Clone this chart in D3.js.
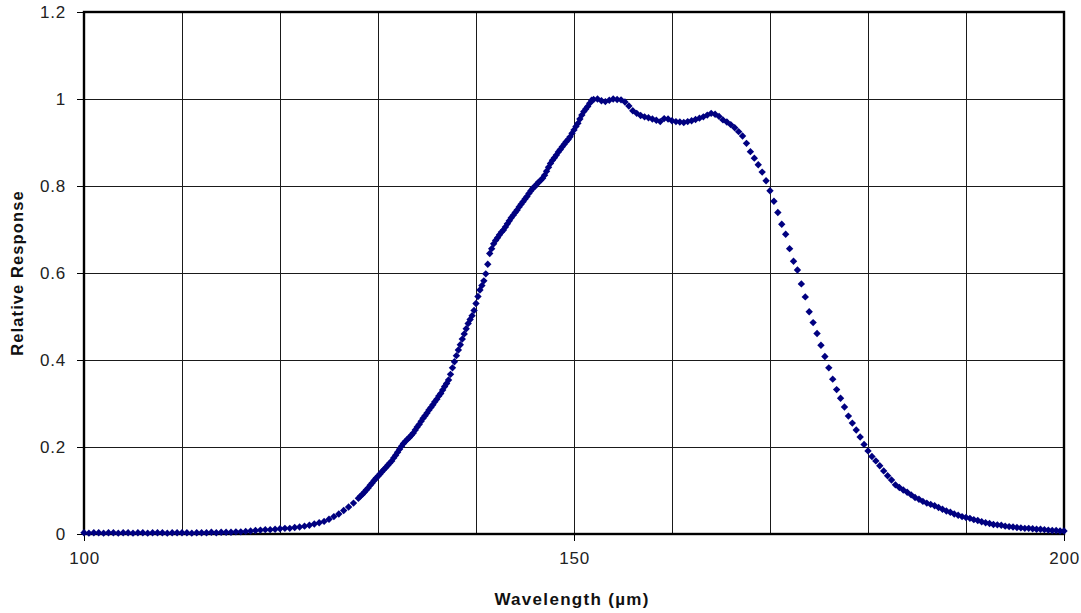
<!DOCTYPE html>
<html>
<head>
<meta charset="utf-8">
<script src="https://cdn.jsdelivr.net/npm/d3@7"></script>
<style>
  html, body { margin: 0; padding: 0; background: #fff; }
  svg { display: block; font-family: Arial, "Liberation Sans", sans-serif; }
</style>
</head>
<body>
<svg id="chart" width="1081" height="613"></svg>
<script>
// Measured spectral response
const wavelength = [
  100,100.5,101,101.5,102,102.5,103,103.5,104,104.5,105,105.5,106,106.5,107,107.5,108,108.5,109,109.5,
  110,110.5,111,111.5,112,112.5,113,113.5,114,114.5,115,115.5,116,116.5,117,117.5,118,118.5,119,119.5,
  120,120.5,121,121.5,122,122.5,123,123.5,124,124.5,125,125.5,126,126.5,127,127.5,128,
  128.2,128.4,128.6,128.8,129,129.2,129.4,129.6,129.8,130,130.2,130.4,130.6,130.8,131,131.2,131.4,131.6,131.8,
  132,132.2,132.4,132.6,132.8,133,133.2,133.4,133.6,133.8,134,134.2,134.4,134.6,134.8,135,135.2,135.4,135.6,135.8,
  136,136.2,136.4,136.6,136.8,137,137.2,137.4,137.6,137.8,138,138.2,138.4,138.6,138.8,139,139.2,139.4,139.6,139.8,
  140,140.2,140.4,140.6,140.8,141,141.2,141.4,141.6,141.8,142,142.2,142.4,142.6,142.8,143,143.2,143.4,143.6,143.8,
  144,144.2,144.4,144.6,144.8,145,145.2,145.4,145.6,145.8,146,146.2,146.4,146.6,146.8,147,147.2,147.4,147.6,147.8,
  148,148.2,148.4,148.6,148.8,149,149.2,149.4,149.6,149.8,150,150.2,150.4,150.6,150.8,151,151.2,151.4,151.6,151.8,152,
  152.4,152.8,153.2,153.6,154,154.4,154.8,155.2,155.6,156,156.4,156.8,157.2,157.6,158,158.4,158.8,159.2,159.6,
  160,160.4,160.8,161.2,161.6,162,162.4,162.8,163.2,163.6,164,164.4,164.8,165.2,165.6,166,166.4,166.8,167.2,167.6,
  168,168.4,168.8,169.2,169.6,170,170.4,170.8,171.2,171.6,172,172.4,172.8,173.2,173.6,174,174.4,174.8,175.2,175.6,
  176,176.4,176.8,177.2,177.6,178,178.4,178.8,179.2,179.6,180,180.4,180.8,181.2,181.6,182,182.4,182.8,183.2,183.6,
  184,184.4,184.8,185.2,185.6,186,186.4,186.8,187.2,187.6,188,188.4,188.8,189.2,189.6,190,190.4,190.8,191.2,191.6,
  192,192.4,192.8,193.2,193.6,194,194.4,194.8,195.2,195.6,196,196.4,196.8,197.2,197.6,198,198.4,198.8,199.2,199.6,200
];
const response = [
  .003,.002,.003,.003,.002,.003,.003,.002,.003,.003,.002,.003,.003,.002,.003,.003,.003,.002,.003,.003,
  .003,.003,.002,.003,.003,.003,.004,.003,.004,.004,.004,.005,.005,.006,.007,.008,.009,.010,.010,.011,
  .012,.013,.013,.015,.016,.018,.020,.023,.026,.029,.034,.040,.046,.054,.062,.071,.082,
  .087,.091,.096,.101,.106,.112,.117,.123,.128,.133,.138,.143,.148,.153,.158,.163,.168,.175,.181,
  .188,.195,.202,.208,.213,.218,.222,.227,.232,.239,.246,.252,.259,.266,.272,.278,.285,.291,.297,.304,
  .310,.317,.323,.331,.339,.346,.354,.367,.382,.396,.410,.423,.435,.448,.460,.472,.484,.493,.502,.514,
  .530,.546,.561,.571,.582,.598,.620,.645,.656,.667,.675,.681,.688,.694,.699,.706,.713,.720,.727,.733,
  .739,.745,.752,.758,.764,.770,.776,.783,.789,.795,.799,.804,.809,.813,.818,.825,.834,.843,.852,.859,
  .865,.871,.878,.884,.890,.896,.902,.907,.913,.921,.929,.937,.944,.954,.963,.971,.977,.983,.990,.997,.999,
  1.000,.996,.994,.997,1.000,.999,.998,.993,.984,.973,.967,.962,.959,.957,.954,.951,.948,.955,.954,
  .950,.948,.947,.946,.948,.950,.953,.956,.959,.963,.967,.965,.960,.952,.947,.941,.934,.925,.915,.898,
  .879,.864,.849,.832,.812,.789,.765,.739,.712,.689,.656,.627,.607,.575,.545,.511,.486,.461,.434,.408,
  .382,.356,.332,.312,.292,.271,.255,.239,.223,.206,.191,.178,.168,.157,.145,.134,.124,.113,.107,.101,
  .096,.090,.084,.080,.075,.071,.068,.065,.061,.057,.053,.050,.046,.043,.040,.038,.036,.033,.031,.028,
  .026,.024,.022,.021,.020,.018,.017,.016,.015,.014,.013,.013,.012,.011,.011,.010,.009,.008,.008,.007,.007
];

const xTicks = [100, 150, 200];
const xGrid = [110, 120, 130, 140, 150, 160, 170, 180, 190];
const yTicks = [0, 0.2, 0.4, 0.6, 0.8, 1, 1.2];
const xTitle = "Wavelength (\u00b5m)";
const yTitle = "Relative Response";

const points = wavelength.map((w, i) => ({ w, r: response[i] }));

const svg = d3.select("#chart");
const plot = { left: 84, right: 1064, top: 12, bottom: 534 };

const x = d3.scaleLinear().domain([100, 200]).range([plot.left, plot.right]);
const y = d3.scaleLinear().domain([0, 1.2]).range([plot.bottom, plot.top]);

// Grid
const grid = svg.append("g").attr("shape-rendering", "crispEdges");
grid.selectAll(".vg").data(xGrid).join("line")
  .attr("x1", d => x(d)).attr("x2", d => x(d))
  .attr("y1", plot.top).attr("y2", plot.bottom)
  .attr("stroke", "#1a1a1a").attr("stroke-width", 1);
grid.selectAll(".hg").data(yTicks.filter(d => d > 0 && d < 1.2)).join("line")
  .attr("x1", plot.left).attr("x2", plot.right)
  .attr("y1", d => y(d)).attr("y2", d => y(d))
  .attr("stroke", "#1a1a1a").attr("stroke-width", 1);

// Axes
const xAxis = d3.axisBottom(x).tickValues(xTicks).tickSize(7).tickPadding(11).tickFormat(d3.format("d"));
const yAxis = d3.axisLeft(y).tickValues(yTicks).tickSize(7).tickPadding(11).tickFormat(d => d3.format("")(+d.toFixed(1)));

const gx = svg.append("g").attr("transform", `translate(0,${plot.bottom})`).call(xAxis);
const gy = svg.append("g").attr("transform", `translate(${plot.left},0)`).call(yAxis);
[gx, gy].forEach(g => {
  g.select(".domain").remove();
  g.selectAll(".tick line").attr("stroke", "#000").attr("stroke-width", 1.2).attr("shape-rendering", "crispEdges");
  g.selectAll(".tick text").attr("font-size", 17).attr("fill", "#222").attr("letter-spacing", 0.8)
    .attr("font-family", "Arial, 'Liberation Sans', sans-serif");
});

// Plot frame
svg.append("rect")
  .attr("x", plot.left).attr("y", plot.top)
  .attr("width", plot.right - plot.left).attr("height", plot.bottom - plot.top)
  .attr("fill", "none").attr("stroke", "#000").attr("stroke-width", 2.4);

// Markers: small diamonds
const diamond = r => `M0,${-r}L${r},0L0,${r}L${-r},0Z`;
svg.append("g").selectAll("path").data(points).join("path")
  .attr("d", diamond(3.7))
  .attr("transform", d => `translate(${x(d.w)},${y(d.r)})`)
  .attr("fill", "#000080");

// Axis titles
svg.append("text")
  .attr("x", (plot.left + plot.right) / 2 - 2).attr("y", 605)
  .attr("text-anchor", "middle").attr("font-weight", "bold").attr("font-size", 17)
  .attr("letter-spacing", 1.3).attr("fill", "#111")
  .text(xTitle);
svg.append("text")
  .attr("transform", `translate(23,${(plot.top + plot.bottom) / 2}) rotate(-90)`)
  .attr("text-anchor", "middle").attr("font-weight", "bold").attr("font-size", 16.5)
  .attr("letter-spacing", 1.1).attr("fill", "#111")
  .text(yTitle);
</script>
</body>
</html>
